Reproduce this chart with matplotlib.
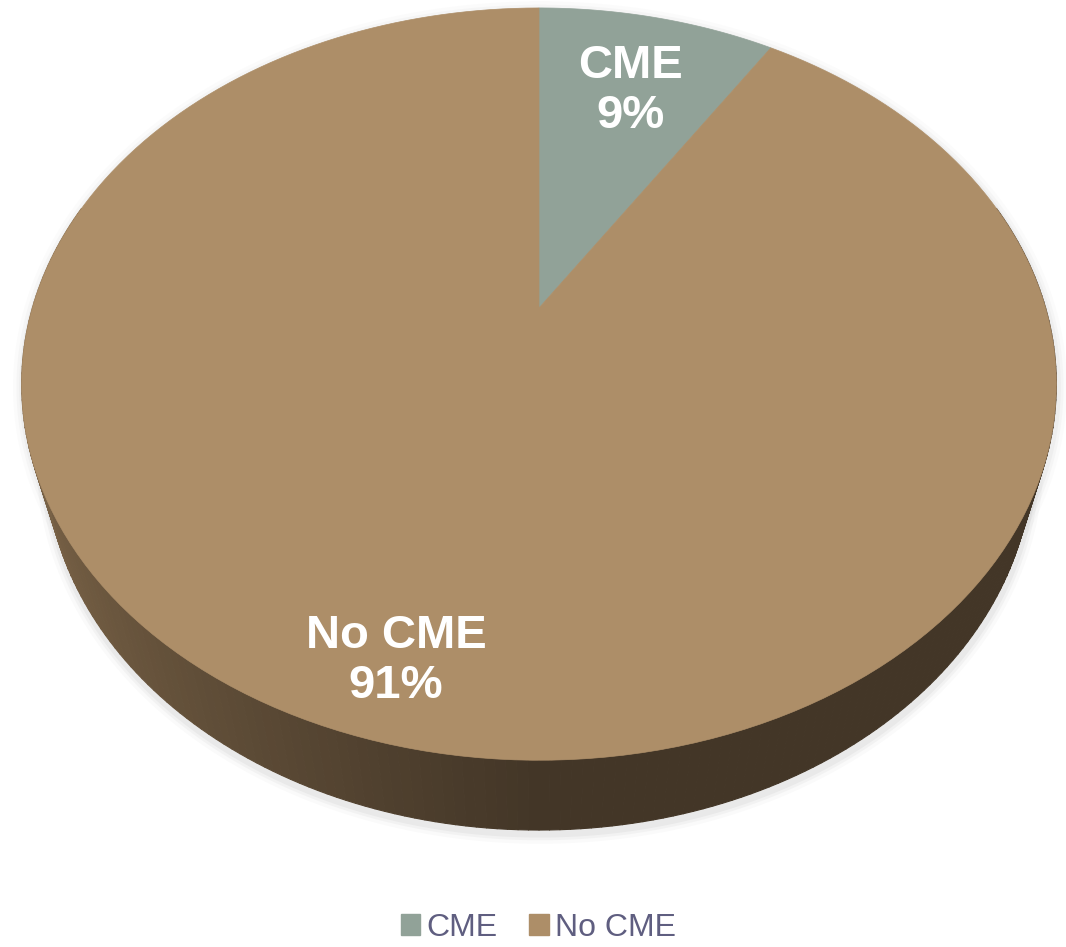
import numpy as np
import matplotlib
matplotlib.use("Agg")
import matplotlib.pyplot as plt
from matplotlib.patches import Patch
from matplotlib.collections import PolyCollection
from matplotlib.colors import to_rgb

labels = ["CME", "No CME"]
values = [9, 91]
colors = ["#91a298", "#ad8e68"]

plt.rcParams['font.family'] = ['Liberation Sans', 'DejaVu Sans']

# 3d view settings (pixels)
cx, cy = 539, 308
elev = np.radians(45.4)
dist = 3.47
focal = 1758
thick = 0.224


def proj(u, v, z):
    s, c = np.sin(elev), np.cos(elev)
    depth = v * c - z * s + dist
    up = v * s + z * c
    return cx + focal * u / depth, cy - focal * up / depth


fig = plt.figure(figsize=(10.66, 9.47), dpi=100)
ax = fig.add_axes([0, 0, 1, 1])
ax.set_xlim(0, 1066)
ax.set_ylim(947, 0)
ax.axis("off")

# soft shadow round the disc
th = np.linspace(0, 2 * np.pi, 400)
bx, by = proj(np.sin(th), np.cos(th), -thick)
tx, ty = proj(np.sin(th), np.cos(th), 0)
for lw, a in [(14, 0.04), (9, 0.06), (5, 0.08)]:
    ax.plot(bx + 1, by + 4, color="#808080", lw=lw, alpha=a, zorder=1, solid_capstyle="round")
    ax.plot(tx + 1, ty + 3, color="#808080", lw=lw, alpha=a * 0.7, zorder=1)

# side wall
light = np.array(to_rgb("#7f674a"))
dark = np.array(to_rgb("#433627"))
edges = np.linspace(0, 2 * np.pi, 361)
quads, qcols = [], []
for a0, a1 in zip(edges[:-1], edges[1:]):
    if np.cos((a0 + a1) / 2) > 0.3:
        continue
    x0, y0 = proj(np.sin(a0), np.cos(a0), 0)
    x1, y1 = proj(np.sin(a1), np.cos(a1), 0)
    x2, y2 = proj(np.sin(a1), np.cos(a1), -thick)
    x3, y3 = proj(np.sin(a0), np.cos(a0), -thick)
    quads.append([(x0, y0), (x1, y1), (x2, y2), (x3, y3)])
    t = np.clip((np.sin((a0 + a1) / 2) + 1) / 1.0, 0, 1) ** 0.8
    qcols.append(light * (1 - t) + dark * t)
ax.add_collection(PolyCollection(quads, facecolors=qcols, edgecolors=qcols,
                                 linewidths=0.8, zorder=2))

# top face wedges, clockwise from 12 o'clock
fracs = np.array(values) / np.sum(values)
start = 0.0
for frac, col in zip(fracs, colors):
    a = np.linspace(start, start + frac * 2 * np.pi, 200)
    xs, ys = proj(np.sin(a), np.cos(a), 0)
    x0, y0 = proj(0, 0, 0)
    ax.fill(np.r_[x0, xs], np.r_[y0, ys], color=col, lw=0.5, ec=col, zorder=3)
    start += frac * 2 * np.pi

# data labels
ax.text(631, 91, "CME\n9%", color="white", fontsize=34, fontweight="bold",
        ha="center", va="center", linespacing=1.2, zorder=5)
ax.text(396, 661, "No CME\n91%", color="white", fontsize=34, fontweight="bold",
        ha="center", va="center", linespacing=1.2, zorder=5)

handles = [Patch(facecolor=c, edgecolor=c) for c in colors]
fig.legend(handles, labels, loc="lower center", bbox_to_anchor=(0.505, -0.026),
           ncol=2, frameon=False, fontsize=23, labelcolor="#5f5e80",
           handlelength=0.6, handleheight=0.6, handletextpad=0.2,
           columnspacing=1.0)

fig.savefig("out.png", dpi=100)
